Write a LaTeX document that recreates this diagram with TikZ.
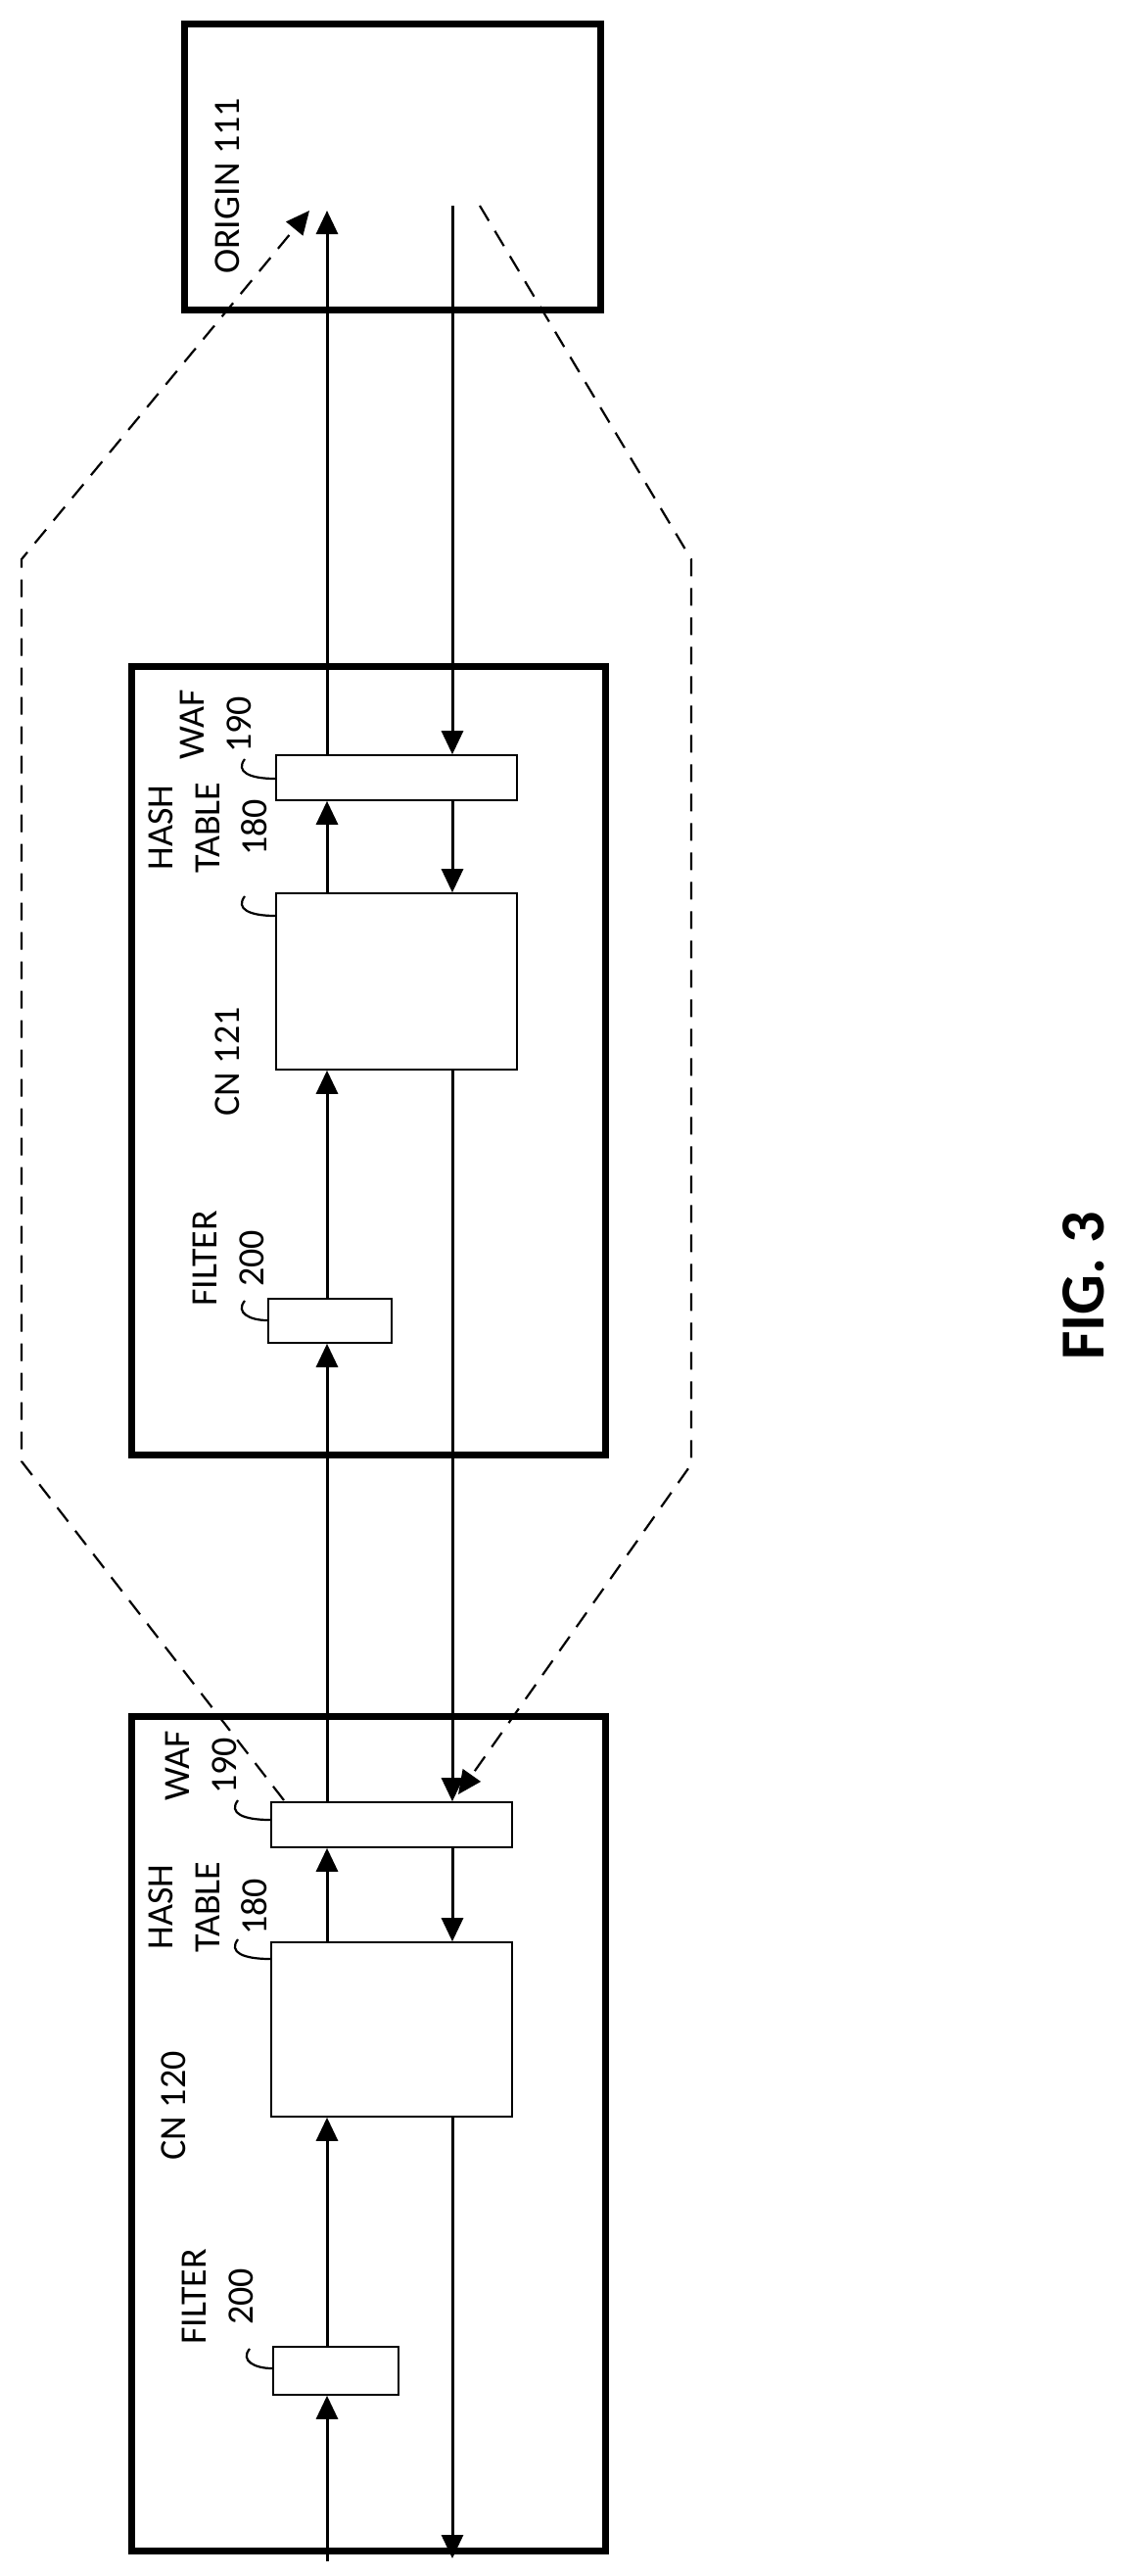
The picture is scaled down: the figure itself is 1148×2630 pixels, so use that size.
\documentclass[tikz,border=0pt]{standalone}
\usepackage{fontspec}
\setmainfont{Carlito}
\usetikzlibrary{arrows.meta,calc}
\begin{document}
\begin{tikzpicture}[x=0.5pt,y=-0.5pt,
  big/.style={draw,line width=3.5pt,inner sep=0},
  small/.style={draw,line width=0.8pt,inner sep=0,fill=white},
  flow/.style={line width=1.5pt,-{Triangle[length=12pt,width=11pt]}},
  dashline/.style={line width=1.1pt,dash pattern=on 9pt off 6pt},
  lbl/.style={rotate=90,align=center,font=\fontsize{19}{24}\selectfont,inner sep=0},
  lead/.style={line width=1.1pt}]
\useasboundingbox (0,0) rectangle (1148,2630);
% boxes
\node[big,minimum width=212.5pt,minimum height=146pt] (orig) at (400.5,170) {};
\node[big,minimum width=242pt,minimum height=402.5pt] (cn121) at (376,1082.5) {};
\node[big,minimum width=242pt,minimum height=426pt] (cn120) at (376,2178) {};
\node[small,minimum width=123pt,minimum height=23pt] (waf121) at (405,794) {};
\node[small,minimum width=123pt,minimum height=90pt] (hash121) at (405,1002) {};
\node[small,minimum width=63pt,minimum height=22.5pt] (filt121) at (337,1348.5) {};
\node[small,minimum width=123pt,minimum height=23pt] (waf120) at (400,1863) {};
\node[small,minimum width=123pt,minimum height=89pt] (hash120) at (400,2072) {};
\node[small,minimum width=64pt,minimum height=24.5pt] (filt120) at (343,2420.5) {};
% labels
\node[lbl] (lorig) at (232,190) {ORIGIN 111};
\node[lbl] (lcn121) at (232,1084) {CN 121};
\node[lbl] (lcn120) at (177,2150) {CN 120};
\node[lbl] (lf121) at (233,1285) {FILTER\\200};
\node[lbl] (lf120) at (222,2345) {FILTER\\200};
\node[lbl] (lh121) at (212,845) {HASH\\TABLE\\180};
\node[lbl] (lh120) at (212,1947) {HASH\\TABLE\\180};
\node[lbl] (lw121) at (220,740) {WAF\\190};
\node[lbl] (lw120) at (205,1803) {WAF\\190};
\node[rotate=90,font=\fontsize{32}{36}\selectfont\bfseries,inner sep=0] (fig) at (1107,1313) {FIG. 3};
% leaders
\draw[lead] (250,1328) .. controls (240,1340) and (255,1348) .. (filt121.west|-0,1348);
\draw[lead] (255,2398) .. controls (245,2410) and (260,2418) .. (filt120.west|-0,2418);
\draw[lead] (250,915) .. controls (240,928) and (255,935) .. (hash121.west|-0,935);
\draw[lead] (243,1980) .. controls (233,1993) and (248,2000) .. (hash120.west|-0,2000);
\draw[lead] (250,775) .. controls (240,788) and (255,795) .. (waf121.west|-0,795);
\draw[lead] (243,1838) .. controls (233,1851) and (248,1858) .. (waf120.west|-0,1858);
% coordinates
\coordinate (inS) at (334,2615);
\coordinate (outS) at (462,2612);
\coordinate (upT) at (334,215);
\coordinate (dnT) at (462,210);
% up flow
\draw[flow] (inS) -- (filt120.south-|inS);
\draw[flow] (filt120.north-|inS) -- (hash120.south-|inS);
\draw[flow] (hash120.north-|inS) -- (waf120.south-|inS);
\draw[flow] (waf120.north-|inS) -- (filt121.south-|inS);
\draw[flow] (filt121.north-|inS) -- (hash121.south-|inS);
\draw[flow] (hash121.north-|inS) -- (waf121.south-|inS);
\draw[flow] (waf121.north-|inS) -- (upT);
% down flow
\draw[flow] (dnT) -- (waf121.north-|dnT);
\draw[flow] (waf121.south-|dnT) -- (hash121.north-|dnT);
\draw[flow] (hash121.south-|dnT) -- (waf120.north-|dnT);
\draw[flow] (waf120.south-|dnT) -- (hash120.north-|dnT);
\draw[flow] (hash120.south-|dnT) -- (outS);
% dashed
\coordinate (dl1) at (290,1838);
\coordinate (dl2) at (316,215);
\coordinate (dr1) at (490,210);
\coordinate (dr2) at (468,1832);
\draw[dashline,-{Triangle[length=12pt,width=11pt]}] (dl1) -- (22,1492) -- (22,571) -- (dl2);
\draw[dashline,-{Triangle[length=12pt,width=11pt]}] (dr1) -- (706,571) -- (706,1495) -- (dr2);
\end{tikzpicture}
\end{document}
